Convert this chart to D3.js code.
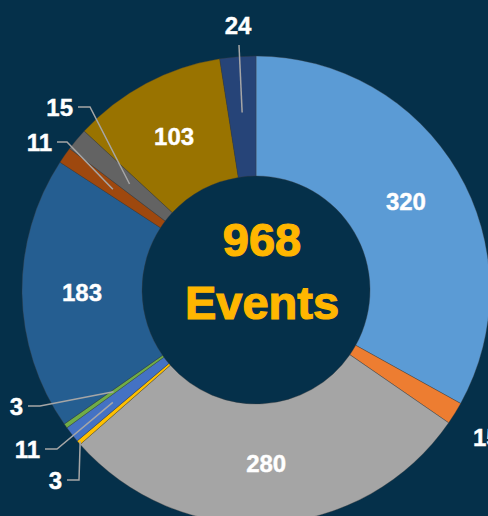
<!DOCTYPE html>
<html>
<head>
<meta charset="utf-8">
<script src="https://cdn.jsdelivr.net/npm/d3@7"></script>
<style>
  html, body { margin: 0; padding: 0; background: #05304a; overflow: hidden; }
  text { font-family: "Liberation Sans", Arial, sans-serif; font-weight: bold; }
</style>
</head>
<body>
<div id="chart"></div>
<script>
// slices, clockwise from 12 o'clock
var categories = ['A', 'B', 'C', 'D', 'E', 'F', 'G', 'H', 'I', 'J', 'K'];
var values = [320, 15, 280, 3, 11, 3, 183, 11, 15, 103, 24];
var colors = ['#5b9bd5', '#ed7d31', '#a5a5a5', '#ffc000', '#4472c4', '#70ad47',
              '#255e91', '#9e480e', '#636363', '#997300', '#264478'];
var totalLabel = ['968', 'Events'];

var w = 488, h = 516;
var cx = 256, cy = 290;
var rOut = 234, rIn = 114;

// where the small outside labels go (leader start radius, elbow, label end)
var outside = {
  1: { r: 234, ex: 470, ey: 437, lx: 473, anchor: 'start', noLine: true },
  3: { r: 232, ex: 79, ey: 480, lx: 67, anchor: 'end' },
  4: { r: 182, ex: 57, ey: 449, lx: 45, anchor: 'end' },
  5: { r: 175, ex: 40, ey: 406, lx: 28, anchor: 'end' },
  7: { r: 175, ex: 67, ey: 142, lx: 57, anchor: 'end' },
  8: { r: 165, ex: 90, ey: 107, lx: 78, anchor: 'end' },
  10: { r: 178, ex: 239, ey: 45, lx: 238, anchor: 'middle', top: true }
};

var svg = d3.select('#chart').append('svg').attr('width', w).attr('height', h);

var pie = d3.pie().sort(null).value(function(d) { return d; });
var arcs = pie(values);
var arc = d3.arc().innerRadius(rIn).outerRadius(rOut);

var g = svg.append('g').attr('transform', 'translate(' + cx + ',' + cy + ')');

g.selectAll('path')
  .data(arcs)
  .enter()
  .append('path')
  .attr('d', arc)
  .attr('fill', function(d, i) { return colors[i]; })
  .attr('stroke', 'rgba(60,60,60,0.6)')
  .attr('stroke-width', 0.6);

// inside labels
g.selectAll('text.in')
  .data(arcs.filter(function(d, i) { return !outside[i]; }))
  .enter()
  .append('text')
  .attr('class', 'in')
  .attr('transform', function(d) { return 'translate(' + arc.centroid(d) + ')'; })
  .attr('text-anchor', 'middle')
  .attr('dy', '0.36em')
  .attr('font-size', '24px')
  .attr('fill', 'white')
  .attr('stroke', 'white')
  .attr('stroke-width', 0.4)
  .text(function(d) { return d.value; });

// outside labels with leaders
arcs.forEach(function(d, i) {
  var o = outside[i];
  if (!o) return;
  var a = (d.startAngle + d.endAngle) / 2;
  var sx = cx + Math.sin(a) * o.r;
  var sy = cy - Math.cos(a) * o.r;
  if (!o.noLine) {
    var pts = o.top ? [[sx, sy], [o.ex, o.ey]] : [[sx, sy], [o.ex, o.ey], [o.lx, o.ey]];
    svg.append('path')
      .attr('d', d3.line()(pts))
      .attr('fill', 'none')
      .attr('stroke', '#a6a6a6')
      .attr('stroke-width', 1.5);
  }
  svg.append('text')
    .attr('x', o.top ? o.lx : (o.anchor === 'end' ? o.lx - 5 : o.lx))
    .attr('y', o.top ? o.ey - 20 : o.ey)
    .attr('dy', '0.36em')
    .attr('text-anchor', o.anchor)
    .attr('font-size', '24px')
    .attr('fill', 'white')
    .attr('stroke', 'white')
    .attr('stroke-width', 0.4)
    .text(d.value);
});

// centre text
svg.append('text')
  .attr('x', cx + 6).attr('y', 256)
  .attr('text-anchor', 'middle')
  .attr('font-size', '47px')
  .attr('fill', '#ffb600')
  .attr('stroke', '#ffb600')
  .attr('stroke-width', 1.2)
  .text(totalLabel[0]);
svg.append('text')
  .attr('x', cx + 6).attr('y', 319)
  .attr('text-anchor', 'middle')
  .attr('font-size', '47px')
  .attr('fill', '#ffb600')
  .attr('stroke', '#ffb600')
  .attr('stroke-width', 1.2)
  .text(totalLabel[1]);
</script>
</body>
</html>
